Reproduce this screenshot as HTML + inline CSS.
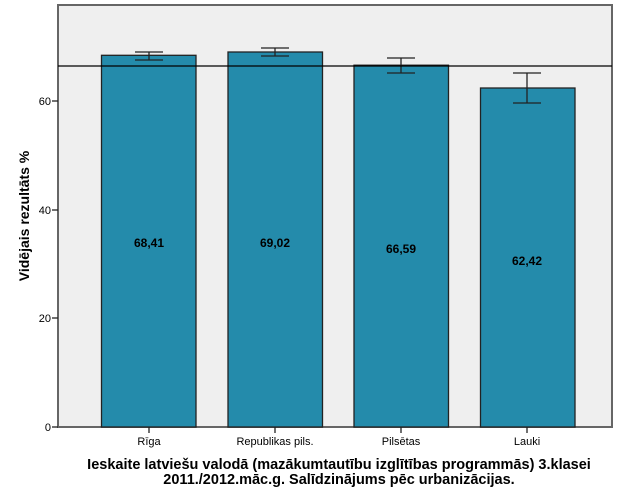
<!DOCTYPE html><html><head><style>body{margin:0;background:#fff}svg{display:block}text{font-family:"Liberation Sans",sans-serif}</style></head><body>
<svg width="625" height="500" xmlns="http://www.w3.org/2000/svg">
<rect x="58" y="5" width="554" height="422" fill="#efefef" stroke="#666" stroke-width="2"/>
<g fill="#248bab" stroke="#222" stroke-width="1.3">
<rect x="101.5" y="55.3" width="94.5" height="371.7"/>
<rect x="228" y="52" width="94.5" height="375"/>
<rect x="354" y="65.2" width="94.5" height="361.8"/>
<rect x="480.5" y="88" width="94.5" height="339"/>
</g>
<g stroke="#222" stroke-width="1.3">
<line x1="149" y1="52" x2="149" y2="60"/><line x1="135" y1="52" x2="163" y2="52"/><line x1="135" y1="60" x2="163" y2="60"/>
<line x1="275" y1="48" x2="275" y2="56"/><line x1="261" y1="48" x2="289" y2="48"/><line x1="261" y1="56" x2="289" y2="56"/>
<line x1="401" y1="58" x2="401" y2="73"/><line x1="387" y1="58" x2="415" y2="58"/><line x1="387" y1="73" x2="415" y2="73"/>
<line x1="527" y1="73" x2="527" y2="103"/><line x1="513" y1="73" x2="541" y2="73"/><line x1="513" y1="103" x2="541" y2="103"/>
</g>
<line x1="58" y1="66" x2="612" y2="66" stroke="#000" stroke-width="1.3"/>
<g font-size="12" font-weight="bold" text-anchor="middle">
<text x="149" y="247">68,41</text><text x="275" y="247">69,02</text><text x="401" y="253">66,59</text><text x="527" y="265">62,42</text>
</g>
<g stroke="#222" stroke-width="1.3">
<line x1="52" y1="101" x2="58" y2="101"/><line x1="52" y1="210" x2="58" y2="210"/><line x1="52" y1="318" x2="58" y2="318"/><line x1="52" y1="427" x2="58" y2="427"/>
<line x1="149" y1="427" x2="149" y2="433"/><line x1="275" y1="427" x2="275" y2="433"/><line x1="401" y1="427" x2="401" y2="433"/><line x1="527" y1="427" x2="527" y2="433"/>
</g>
<g font-size="11" text-anchor="end"><text x="51" y="105">60</text><text x="51" y="214">40</text><text x="51" y="322">20</text><text x="51" y="431">0</text></g>
<g font-size="11" text-anchor="middle"><text x="149" y="445">Rīga</text><text x="275" y="445">Republikas pils.</text><text x="401" y="445">Pilsētas</text><text x="527" y="445">Lauki</text></g>
<text transform="translate(29,216) rotate(-90)" font-size="14" font-weight="bold" text-anchor="middle">Vidējais rezultāts %</text>
<g font-size="14.5" font-weight="bold" text-anchor="middle"><text x="339" y="469">Ieskaite latviešu valodā (mazākumtautību izglītības programmās) 3.klasei</text><text x="339" y="484">2011./2012.māc.g. Salīdzinājums pēc urbanizācijas.</text></g>
</svg></body></html>
